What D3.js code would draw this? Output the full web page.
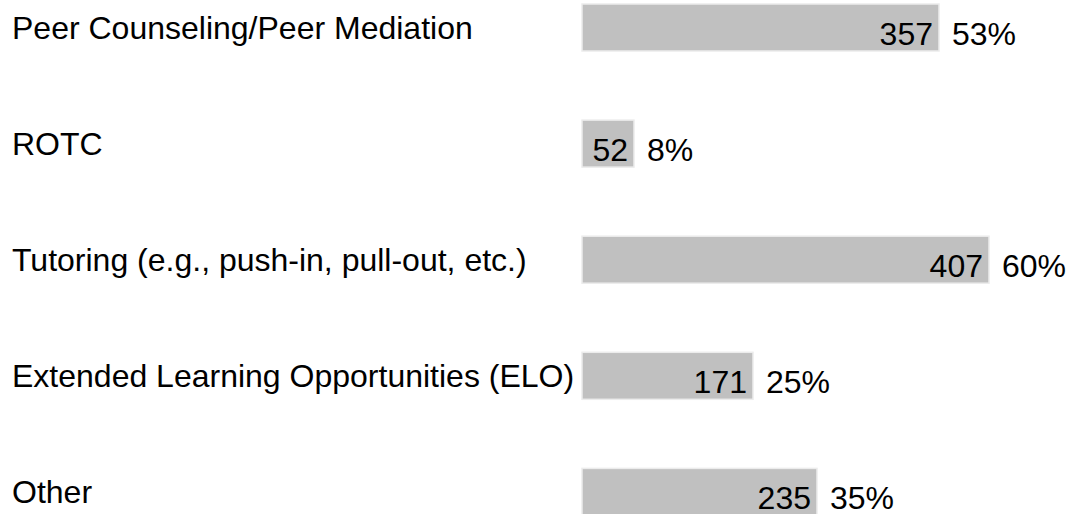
<!DOCTYPE html>
<html>
<head>
<meta charset="utf-8">
<script src="https://cdn.jsdelivr.net/npm/d3@7"></script>
<style>
	body { margin: 0; background: #fff; }
	text { font-family: "Liberation Sans", Arial, sans-serif; font-size: 32px; fill: #000; }
</style>
</head>
<body>
<div id="container"></div>
<script>
const categories = [
	"Peer Counseling/Peer Mediation",
	"ROTC",
	"Tutoring (e.g., push-in, pull-out, etc.)",
	"Extended Learning Opportunities (ELO)",
	"Other"
];
const counts = [357, 52, 407, 171, 235];
const percents = ["53%", "8%", "60%", "25%", "35%"];

const width = 1071;
const height = 514;
const barLeft = 582;
const rowStep = 116.1;
const barHeight = 47;

const data = categories.map((c, i) => ({ name: c, count: counts[i], pct: percents[i] }));

const svg = d3.select("#container")
	.append("svg")
		.attr("width", width)
		.attr("height", height);

// one row per category, bars start at a fixed left edge
const scaleY = d3.scaleBand()
	.domain(categories)
	.range([4, 4 + rowStep * (categories.length - 1) + barHeight])
	.paddingInner(1 - barHeight / rowStep)
	.paddingOuter(0);

const scaleX = d3.scaleLinear()
	.domain([0, 407])
	.range([0, 407]);

const rows = svg.selectAll(".row")
	.data(data)
	.enter()
	.append("g")
		.attr("class", "row")
		.attr("transform", (d) => `translate(0, ${scaleY(d.name)})`);

rows.append("text")
	.attr("x", 12)
	.attr("y", 35)
	.text((d) => d.name);

rows.append("rect")
	.attr("x", barLeft)
	.attr("y", 0)
	.attr("width", (d) => scaleX(d.count))
	.attr("height", scaleY.bandwidth())
	.style("fill", "#c0c0c0")
	.style("stroke", "#ececec")
	.style("stroke-width", 1.5);

rows.append("text")
	.attr("x", (d) => barLeft + scaleX(d.count) - 6)
	.attr("y", 41)
	.attr("text-anchor", "end")
	.text((d) => d.count);

rows.append("text")
	.attr("x", (d) => barLeft + scaleX(d.count) + 13)
	.attr("y", 41)
	.text((d) => d.pct);
</script>
</body>
</html>
